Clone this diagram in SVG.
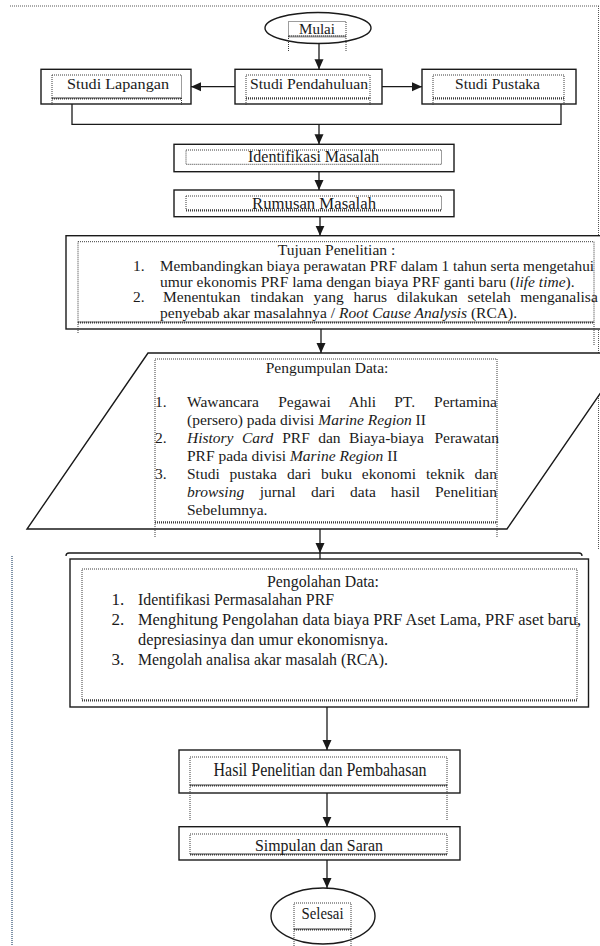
<svg xmlns="http://www.w3.org/2000/svg" width="600" height="946" viewBox="0 0 600 946">
<defs>
<marker id="ah" markerUnits="userSpaceOnUse" markerWidth="10" markerHeight="10" refX="10" refY="5" orient="auto"><path d="M0,0.5 L10,5 L0,9.5 z" fill="#1a1a1a"/></marker>
<style>
.box{fill:#fff;stroke:#1a1a1a;stroke-width:1.4}
.dot{fill:none;stroke:#3a3a3a;stroke-width:1;stroke-dasharray:1 1}
.dotb{fill:none;stroke:#3a3a3a;stroke-width:2;stroke-dasharray:1 1}
.conn{fill:none;stroke:#1a1a1a;stroke-width:1.3}
.t{font-family:"Liberation Serif","Times New Roman",serif;fill:#1a1a1a}
.i{font-style:italic}
.frame{fill:none;stroke:#555;stroke-width:1;stroke-dasharray:1 1}
</style>
</defs>
<rect width="600" height="946" fill="#fff"/>
<g id="frame">
<path class="frame" d="M10,6 H600 M598.5,6 V550"/>
<line x1="12" y1="556" x2="12" y2="946" stroke="#7f93a8" stroke-width="2" stroke-dasharray="1 1"/>
</g>
<g id="n-mulai">
<ellipse class="box" cx="318" cy="28" rx="53" ry="15.5"/>
<rect class="dot" x="288.5" y="21.5" width="57.5" height="14.5"/>
<path class="dotb" d="M288.5,36.5 H346"/>
<path class="dot" d="M288.5,36 V52 M346,36 V52"/>
<text class="t" x="317" y="33.5" font-size="15" text-anchor="middle" textLength="36" lengthAdjust="spacingAndGlyphs">Mulai</text>
</g>
<g id="n-studi-lapangan">
<rect class="box" x="41" y="69.3" width="150" height="34.7"/>
<rect class="dot" x="52" y="75" width="129.5" height="23"/>
<path class="dotb" d="M52,98.5 H181.5"/>
<path class="dot" d="M52,98 V106 M181.5,98 V106"/>
<text class="t" x="118" y="88.5" font-size="15.5" text-anchor="middle" textLength="102" lengthAdjust="spacingAndGlyphs">Studi Lapangan</text>
</g>
<g id="n-studi-pendahuluan">
<rect class="box" x="235" y="69.3" width="147" height="34.7"/>
<rect class="dot" x="246" y="75" width="124" height="23"/>
<path class="dotb" d="M246,98.5 H370"/>
<path class="dot" d="M246,98 V106 M370,98 V106"/>
<text class="t" x="309" y="88.5" font-size="15.5" text-anchor="middle" textLength="118" lengthAdjust="spacingAndGlyphs">Studi Pendahuluan</text>
</g>
<g id="n-studi-pustaka">
<rect class="box" x="422" y="69.3" width="154" height="34.7"/>
<rect class="dot" x="433" y="75" width="131" height="23"/>
<path class="dotb" d="M433,98.5 H564"/>
<path class="dot" d="M433,98 V106 M564,98 V106"/>
<text class="t" x="497.5" y="88.5" font-size="15.5" text-anchor="middle" textLength="85" lengthAdjust="spacingAndGlyphs">Studi Pustaka</text>
</g>
<g id="n-identifikasi">
<rect class="box" x="174" y="144.3" width="280" height="27.4"/>
<rect class="dot" x="186" y="150" width="255.5" height="14.3"/>
<text class="t" x="313.5" y="161.5" font-size="16" text-anchor="middle" textLength="131" lengthAdjust="spacingAndGlyphs">Identifikasi Masalah</text>
</g>
<g id="n-rumusan">
<rect class="box" x="174" y="190" width="280" height="26.7"/>
<rect class="dot" x="186" y="196" width="255.5" height="14"/>
<path class="dotb" d="M186,210.5 H441.5"/>
<text class="t" x="314" y="208.5" font-size="16" text-anchor="middle" textLength="124" lengthAdjust="spacingAndGlyphs">Rumusan Masalah</text>
</g>
<g id="n-tujuan">
<rect class="box" x="66" y="235.7" width="550" height="93.3"/>
<rect class="dot" x="78" y="241.7" width="516" height="80.3"/>
<path class="dotb" d="M78,322.5 H594"/>
<path class="dot" d="M78,322 V334 M594,322 V345"/>
<g class="t" font-size="15.5">
<text x="336.5" y="255" text-anchor="middle">Tujuan Penelitian :</text>
<text x="133" y="270.5">1.</text>
<text x="160" y="270.5" font-size="15" textLength="434" lengthAdjust="spacingAndGlyphs">Membandingkan biaya perawatan PRF dalam 1 tahun serta mengetahui</text>
<text x="160" y="286.5">umur ekonomis PRF lama dengan biaya PRF ganti baru (<tspan class="i">life time</tspan>).</text>
<text y="302"><tspan x="133">2.</tspan><tspan x="163">Menentukan</tspan><tspan x="250.4">tindakan</tspan><tspan x="313.5">yang</tspan><tspan x="353.4">harus</tspan><tspan x="396.7">dilakukan</tspan><tspan x="467.6">setelah</tspan><tspan x="520.3">menganalisa</tspan></text>
<text x="160" y="317.5">penyebab akar masalahnya / <tspan class="i">Root Cause Analysis</tspan> (RCA).</text>
</g>
</g>
<g id="n-pengumpulan">
<path class="box" d="M148,353 H628 L507,529 H27 Z"/>
<rect class="dot" x="155" y="359" width="342" height="163"/>
<path class="dotb" d="M155,522.5 H497"/>
<path class="dot" d="M155,522 V537 M497,522 V537"/>
<g class="t" font-size="15.5">
<text x="327" y="372.5" text-anchor="middle">Pengumpulan Data:</text>
<text y="407"><tspan x="155">1.</tspan><tspan x="187">Wawancara</tspan><tspan x="278.2">Pegawai</tspan><tspan x="348.6">Ahli</tspan><tspan x="394.2">PT.</tspan><tspan x="434.1">Pertamina</tspan></text>
<text x="187" y="425">(persero) pada divisi <tspan class="i">Marine Region</tspan> II</text>
<text y="443"><tspan x="155">2.</tspan><tspan x="187" class="i">History</tspan><tspan x="241.9" class="i">Card</tspan><tspan x="282.2">PRF</tspan><tspan x="318.2">dan</tspan><tspan x="349">Biaya-biaya</tspan><tspan x="434.4">Perawatan</tspan></text>
<text x="187" y="461">PRF pada divisi <tspan class="i">Marine Region</tspan> II</text>
<text y="478.5"><tspan x="155">3.</tspan><tspan x="187">Studi</tspan><tspan x="229.6">pustaka</tspan><tspan x="286.9">dari</tspan><tspan x="320.9">buku</tspan><tspan x="361.8">ekonomi</tspan><tspan x="426">teknik</tspan><tspan x="474.6">dan</tspan></text>
<text y="496.5"><tspan x="187" class="i">browsing</tspan><tspan x="259.7">jurnal</tspan><tspan x="310.9">dari</tspan><tspan x="350">data</tspan><tspan x="390.8">hasil</tspan><tspan x="435">Penelitian</tspan></text>
<text x="187" y="514.5">Sebelumnya.</text>
</g>
</g>
<g id="n-pengolahan">
<path class="conn" d="M66,556 Q66,553 69,553 H579 Q582,553 582,556"/>
<rect class="box" x="70" y="559" width="518.5" height="148"/>
<rect class="dot" x="82" y="569" width="495" height="131"/>
<path class="dotb" d="M82,700.5 H577"/>
<g class="t" font-size="17">
<text x="323" y="587" text-anchor="middle" textLength="112" lengthAdjust="spacingAndGlyphs">Pengolahan Data:</text>
<text x="111.5" y="605">1.</text>
<text x="138" y="605" textLength="196" lengthAdjust="spacingAndGlyphs">Identifikasi Permasalahan PRF</text>
<text x="111.5" y="625">2.</text>
<text x="138" y="625" textLength="443" lengthAdjust="spacingAndGlyphs">Menghitung Pengolahan data biaya PRF Aset Lama, PRF aset baru,</text>
<text x="138" y="645" textLength="250" lengthAdjust="spacingAndGlyphs">depresiasinya dan umur ekonomisnya.</text>
<text x="111.5" y="665">3.</text>
<text x="138" y="665" textLength="250" lengthAdjust="spacingAndGlyphs">Mengolah analisa akar masalah (RCA).</text>
</g>
</g>
<g id="n-hasil">
<rect class="box" x="179" y="750" width="281" height="43"/>
<rect class="dot" x="190" y="757" width="257" height="28"/>
<path class="dotb" d="M190,785.5 H447"/>
<path class="dot" d="M190,785 V820 M447,785 V820"/>
<text class="t" x="320" y="776" font-size="18" text-anchor="middle" textLength="213" lengthAdjust="spacingAndGlyphs">Hasil Penelitian dan Pembahasan</text>
</g>
<g id="n-simpulan">
<rect class="box" x="179" y="826.7" width="281" height="33.3"/>
<rect class="dot" x="190" y="834" width="257" height="20"/>
<path class="dotb" d="M190,854.5 H447"/>
<text class="t" x="319" y="851" font-size="17.5" text-anchor="middle" textLength="128" lengthAdjust="spacingAndGlyphs">Simpulan dan Saran</text>
</g>
<g id="n-selesai">
<ellipse class="box" cx="323" cy="916" rx="52" ry="28"/>
<rect class="dot" x="294" y="903" width="57" height="26"/>
<path class="dotb" d="M294,929.5 H351"/>
<path class="dot" d="M294,929 V946 M351,929 V946"/>
<text class="t" x="322.5" y="919" font-size="17" text-anchor="middle" textLength="42" lengthAdjust="spacingAndGlyphs">Selesai</text>
</g>
<g id="connectors">
<path class="conn" d="M319,43.5 V69.3" marker-end="url(#ah)"/>
<path class="conn" d="M235,86.7 H191" marker-end="url(#ah)"/>
<path class="conn" d="M382,86.7 H422" marker-end="url(#ah)"/>
<path class="conn" d="M72,104 V124.3 H561 V104"/>
<path class="conn" d="M319,124.3 V144.3" marker-end="url(#ah)"/>
<path class="conn" d="M319,171.7 V190" marker-end="url(#ah)"/>
<path class="conn" d="M320,216.7 V235.7" marker-end="url(#ah)"/>
<path class="conn" d="M321,329 V353" marker-end="url(#ah)"/>
<path class="conn" d="M320,529 V553" marker-end="url(#ah)"/>
<path class="conn" d="M320,553 V559"/>
<path class="conn" d="M327,707 V750" marker-end="url(#ah)"/>
<path class="conn" d="M327,793 V826.7" marker-end="url(#ah)"/>
<path class="conn" d="M327,860 V888" marker-end="url(#ah)"/>
</g>
</svg>
